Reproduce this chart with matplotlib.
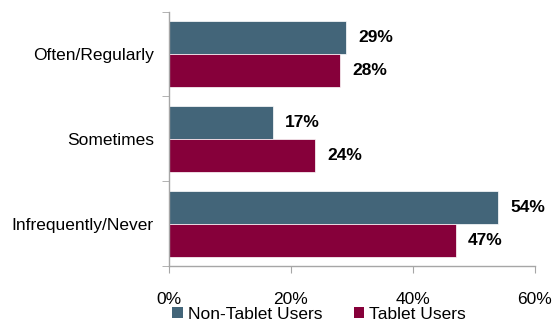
import matplotlib
matplotlib.use("Agg")
import matplotlib.pyplot as plt
from matplotlib.patches import Patch
import numpy as np

plt.rcParams['font.family'] = ['Liberation Sans', 'DejaVu Sans']

categories = ['Often/Regularly', 'Sometimes', 'Infrequently/Never']
non_tablet = [29, 17, 54]
tablet = [28, 24, 47]

blue = '#436579'
red = '#86003A'
grey = '#A6A6A6'

fig = plt.figure(figsize=(5.53, 3.29), dpi=100)
ax = fig.add_axes([0.3056, 0.1915, 0.6618, 0.773])

y = np.arange(len(categories))
h = 0.39
ax.barh(y - h / 2, non_tablet, height=h, color=blue, edgecolor='white', linewidth=0.5)
ax.barh(y + h / 2, tablet, height=h, color=red, edgecolor='white', linewidth=0.5)

# value labels to the right of each bar
for i in range(len(categories)):
    ax.text(non_tablet[i] + 2.0, y[i] - h / 2, f'{non_tablet[i]}%', va='center', ha='left',
            fontsize=12.5, fontweight='bold')
    ax.text(tablet[i] + 2.0, y[i] + h / 2, f'{tablet[i]}%', va='center', ha='left',
            fontsize=12.5, fontweight='bold')

ax.set_xlim(0, 60)
ax.set_ylim(2.5, -0.5)
ax.set_xticks([0, 20, 40, 60])
ax.set_xticklabels(['0%', '20%', '40%', '60%'])
ax.set_yticks(y)
ax.set_yticklabels(categories)
ax.set_yticks([-0.5, 0.5, 1.5, 2.5], minor=True)
ax.tick_params(axis='y', which='major', length=0, pad=11, labelsize=12.5)
ax.tick_params(axis='y', which='minor', length=5, color=grey, direction='out')
ax.tick_params(axis='x', length=5, color=grey, direction='out', pad=14, labelsize=12.5)

for s in ['top', 'right']:
    ax.spines[s].set_visible(False)
for s in ['left', 'bottom']:
    ax.spines[s].set_color(grey)
    ax.spines[s].set_linewidth(1)

handles = [Patch(facecolor=blue, label='Non-Tablet Users'),
           Patch(facecolor=red, label='Tablet Users')]
fig.legend(handles=handles, loc='lower center', bbox_to_anchor=(0.577, -0.025), ncol=2,
           frameon=False, fontsize=12.5, handlelength=0.6, handleheight=0.6,
           handletextpad=0.3, columnspacing=1.8)

fig.savefig('out.png', dpi=100)
